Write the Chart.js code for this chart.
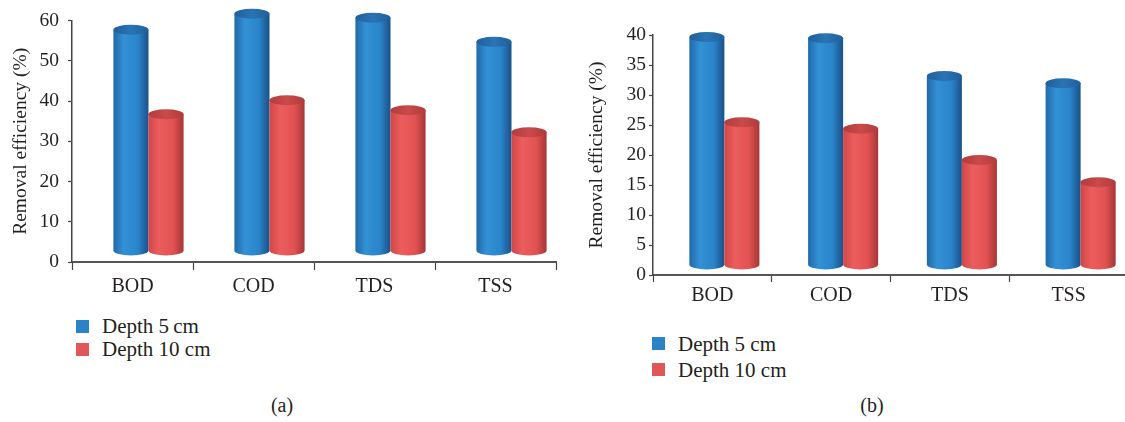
<!DOCTYPE html>
<html>
<head>
<meta charset="utf-8">
<script src="https://cdn.jsdelivr.net/npm/chart.js@4"></script>
<style>
	html, body { margin: 0; padding: 0; background: #fff; overflow: hidden; }
	body { width: 1125px; height: 422px; position: relative; font-family: "Liberation Serif", serif; color: #231f20; }
	canvas { position: absolute; top: 0; }
	.legend { position: absolute; font-size: 21px; line-height: 23px; }
	.legend div { position: relative; padding-left: 26px; white-space: nowrap; }
	.legend span { position: absolute; left: 0; top: 5px; width: 13px; height: 13px; }
	.caption { position: absolute; font-size: 20px; width: 40px; text-align: center; }
</style>
</head>
<body>
<canvas id="chart-a" width="560" height="310" style="left:0"></canvas>
<canvas id="chart-b" width="563" height="320" style="left:565px"></canvas>

<div class="legend" style="left:76px; top:315px">
	<div><span style="background:#2a82c7"></span>Depth 5&#8201;cm</div>
	<div><span style="background:#e05757"></span>Depth 10 cm</div>
</div>
<div class="legend" style="left:652px; top:331px; line-height:26px">
	<div><span style="background:#2a82c7; top:6px"></span>Depth 5 cm</div>
	<div><span style="background:#e05757; top:6px"></span>Depth 10 cm</div>
</div>
<div class="caption" style="left:262px; top:394px">(a)</div>
<div class="caption" style="left:852px; top:394px">(b)</div>

<script>
// 横軸のカテゴリ
const categories = ["BOD", "COD", "TDS", "TSS"];
const seriesNames = ["Depth 5 cm", "Depth 10 cm"];

// (a) の除去率 (%)
const depth5A = [55, 59, 58, 52];
const depth10A = [34, 37.5, 35, 29.5];

// (b) の除去率 (%)
const depth5B = [38, 37.8, 31.5, 30.3];
const depth10B = [23.8, 22.7, 17.5, 13.8];

const FONT = "Liberation Serif";
const TEXT = "#231f20";

// 円柱の色 (縁, ハイライト, 本体, 影, 上面)
const palette = [
	{ edge: "#2169a8", light: "#3391d6", main: "#2a84c9", dark: "#1b5088", top: "#1f5f9c", topLight: "#2b74b3" },
	{ edge: "#d04646", light: "#ec5d5d", main: "#e25252", dark: "#a63636", top: "#b13c3c", topLight: "#c94a4a" },
];

/**
 * 棒を3D風の円柱として描くプラグイン。
 * 要素の位置はChart.jsのスケールから取り、奥行き分だけずらす。
 */
const cylinderPlugin = {
	id: "cylinders",
	afterDatasetsDraw(chart, args, opts) {
		const ctx = chart.ctx;
		const dx = opts.dx || 0;
		const dy = opts.dy || 0;
		const ry = opts.ry || 5;
		ctx.save();
		chart.data.datasets.forEach((ds, i) => {
			const meta = chart.getDatasetMeta(i);
			const col = palette[i];
			meta.data.forEach((bar) => {
				const w = bar.width;
				const cx = bar.x + dx;
				const yTop = bar.y + dy;
				const yBase = bar.base + dy;
				const l = cx - w / 2;
				const r = cx + w / 2;

				const g = ctx.createLinearGradient(l, 0, r, 0);
				g.addColorStop(0, col.edge);
				g.addColorStop(0.3, col.light);
				g.addColorStop(0.7, col.main);
				g.addColorStop(1, col.dark);
				ctx.beginPath();
				ctx.moveTo(l, yTop);
				ctx.lineTo(l, yBase);
				ctx.ellipse(cx, yBase, w / 2, ry, 0, Math.PI, 0, true);
				ctx.lineTo(r, yTop);
				ctx.closePath();
				ctx.fillStyle = g;
				ctx.fill();

				const gt = ctx.createLinearGradient(l, 0, r, 0);
				gt.addColorStop(0, col.top);
				gt.addColorStop(0.5, col.topLight);
				gt.addColorStop(1, col.top);
				ctx.beginPath();
				ctx.ellipse(cx, yTop, w / 2, ry, 0, 0, Math.PI * 2);
				ctx.fillStyle = gt;
				ctx.fill();
			});
		});
		ctx.restore();
	},
};

function makeChart(id, d5, d10, cfg) {
	const ctx = document.getElementById(id).getContext("2d");
	return new Chart(ctx, {
		type: "bar",
		data: {
			labels: categories,
			datasets: [
				{ label: seriesNames[0], data: d5, backgroundColor: "rgba(0,0,0,0)" },
				{ label: seriesNames[1], data: d10, backgroundColor: "rgba(0,0,0,0)" },
			],
		},
		options: {
			responsive: false,
			animation: false,
			devicePixelRatio: 1,
			categoryPercentage: cfg.catPct,
			barPercentage: 1,
			layout: { padding: cfg.padding },
			scales: {
				x: {
					afterFit: (s) => { s.height = cfg.xHeight; },
					grid: {
						display: true,
						drawOnChartArea: false,
						drawTicks: true,
						tickLength: cfg.xTick,
						tickColor: "#444",
						tickWidth: 1.2,
						offset: true,
					},
					border: { display: true, color: "#555", width: 2 },
					ticks: {
						color: TEXT,
						font: { family: FONT, size: 20 },
						padding: cfg.xPad,
					},
				},
				y: {
					min: 0,
					max: cfg.max,
					afterFit: (s) => { s.width = cfg.yWidth; },
					grid: {
						display: true,
						drawOnChartArea: false,
						drawTicks: true,
						tickLength: 4,
						tickColor: "#444",
						tickWidth: 1.2,
					},
					border: { display: true, color: "#444", width: 1.5 },
					ticks: {
						stepSize: cfg.step,
						color: TEXT,
						font: { family: FONT, size: 19.5 },
						padding: cfg.yPad,
					},
					title: {
						display: true,
						text: "Removal efficiency (%)",
						color: TEXT,
						font: { family: FONT, size: 19.5 },
						padding: { top: cfg.titlePad, bottom: 0 },
					},
				},
			},
			plugins: {
				legend: { display: false },
				tooltip: { enabled: false },
				cylinders: cfg.cyl,
			},
		},
		plugins: [cylinderPlugin],
	});
}

makeChart("chart-a", depth5A, depth10A, {
	max: 60, step: 10, catPct: 0.58,
	padding: { top: 20, left: 0, right: 4, bottom: 0 },
	xHeight: 48, yWidth: 72, xTick: 8, xPad: 5, yPad: 9, titlePad: 9,
	cyl: { dx: 16, dy: -11, ry: 5 },
});

makeChart("chart-b", depth5B, depth10B, {
	max: 40, step: 5, catPct: 0.59,
	padding: { top: 35, left: 0, right: 0, bottom: 0 },
	xHeight: 45, yWidth: 88, xTick: 7, xPad: 2, yPad: 3, titlePad: 20,
	cyl: { dx: 12, dy: -10, ry: 5 },
});
</script>
</body>
</html>
